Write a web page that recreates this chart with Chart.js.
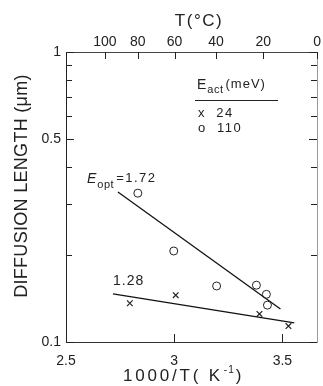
<!DOCTYPE html>
<html><head><meta charset="utf-8">
<script src="https://cdn.jsdelivr.net/npm/chart.js@4.4.1/dist/chart.umd.min.js"></script>
<style>html,body{margin:0;padding:0;background:#fff;overflow:hidden}canvas{display:block}</style>
</head><body>
<canvas id="c" width="323" height="386"></canvas>
<script>
// ---- data ----
const xTicks = [2.5, 3, 3.5];
const yTicks = [0.1, 0.2, 0.3, 0.4, 0.5, 0.6, 0.7, 0.8, 0.9, 1];
const yLabeled = [0.1, 0.5, 1];
const tempTicksC = [100, 80, 60, 40, 20, 0];
const crossX = [2.795, 3.007, 3.394, 3.528];
const crossY = [0.136, 0.145, 0.125, 0.1135];
const circleX = [2.832, 2.998, 3.196, 3.380, 3.426, 3.431];
const circleY = [0.326, 0.206, 0.156, 0.157, 0.146, 0.134];
const fitOptX = [2.740, 3.491];
const fitOptY = [0.329, 0.130];
const fitLowX = [2.717, 3.555];
const fitLowY = [0.1465, 0.1163];
const legendTitle = 'E', legendSub = 'act', legendUnit = '(meV)';
const legendRows = ['x  24', 'o  110'];

const F = "'Liberation Sans', Arial, sans-serif";
const INK = '#222';
const pts = (xs, ys) => xs.map((x, i) => ({x, y: ys[i]}));
const inv = t => 1000 / (t + 273.15);

const inwardTicks = {
  id: 'inwardTicks',
  afterDraw(chart) {
    const {ctx, chartArea: a, scales} = chart;
    ctx.save();
    ctx.strokeStyle = INK; ctx.lineWidth = 1;
    const ln = (x1, y1, x2, y2) => { ctx.beginPath(); ctx.moveTo(x1, y1); ctx.lineTo(x2, y2); ctx.stroke(); };
    xTicks.forEach(v => { const x = Math.round(scales.x.getPixelForValue(v)) + 0.5; ln(x, a.bottom, x, a.bottom - 8); });
    tempTicksC.forEach(t => { const x = Math.round(scales.x2.getPixelForValue(inv(t))) + 0.5; ln(x, a.top, x, a.top + 7); });
    yTicks.forEach(v => {
      const y = Math.round(scales.y.getPixelForValue(v)) + 0.5;
      const len = yLabeled.includes(v) ? 8 : 6;
      ln(a.left, y, a.left + len, y);
      ln(a.right, y, a.right - len, y);
    });
    ctx.restore();
  }
};

const texts = {
  id: 'texts',
  afterDraw(chart) {
    const {ctx} = chart;
    ctx.save();
    ctx.fillStyle = INK;
    ctx.textBaseline = 'alphabetic';
    const put = (s, x, y, size, sp, align, style) => {
      ctx.font = (style ? style + ' ' : '') + size + 'px ' + F;
      ctx.letterSpacing = (sp || 0) + 'px';
      ctx.textAlign = align || 'left';
      ctx.fillText(s, x, y);
      return ctx.measureText(s).width;
    };
    // y axis title
    ctx.save();
    ctx.translate(27, 186);
    ctx.rotate(-Math.PI / 2);
    put('DIFFUSION LENGTH (\u03bcm)', 0, 0, 18, 0.3, 'center');
    ctx.restore();
    // top title
    put('T(\u00b0C)', 199, 26, 17, 1.5, 'center');
    // bottom title
    let x = 123;
    x += put('1000/T( K', x, 381, 17, 2.8);
    x += put('-1', x + 1, 373, 10, 1);
    put(')', x + 2, 381, 17, 0);
    // E_opt annotation
    x = 87;
    x += put('E', x, 183, 14, 0, 'left', 'italic');
    x += put('opt', x + 1, 188, 11, 0.5);
    put('=1.72', x + 3, 182, 13, 1.5);
    put('1.28', 113, 285, 14, 1);
    // legend
    x = 197;
    x += put(legendTitle, x, 89, 14, 0);
    x += put(legendSub, x + 1, 93, 11, 0.5);
    put(legendUnit, x + 3, 88, 13, 1);
    ctx.strokeStyle = INK; ctx.lineWidth = 1;
    ctx.beginPath(); ctx.moveTo(195, 100.5); ctx.lineTo(278, 100.5); ctx.stroke();
    put(legendRows[0], 198, 117, 13, 1.5);
    put(legendRows[1], 198, 132, 13, 1.5);
    ctx.restore();
  }
};

const tickFont = {family: F, size: 14};
const noGrid = {display: false, drawTicks: false, tickLength: 0};
new Chart(document.getElementById('c'), {
  type: 'scatter',
  data: {
    datasets: [
      {data: pts(crossX, crossY), pointStyle: 'crossRot', pointRadius: 4, borderColor: INK, borderWidth: 1.2, xAxisID: 'x', yAxisID: 'y'},
      {data: pts(circleX, circleY), pointStyle: 'circle', pointRadius: 4, borderColor: INK, backgroundColor: 'rgba(255,255,255,0)', borderWidth: 1, xAxisID: 'x', yAxisID: 'y'},
      {data: pts(fitOptX, fitOptY), showLine: true, pointRadius: 0, borderColor: '#111', borderWidth: 1.3, xAxisID: 'x', yAxisID: 'y'},
      {data: pts(fitLowX, fitLowY), showLine: true, pointRadius: 0, borderColor: '#111', borderWidth: 1.3, xAxisID: 'x', yAxisID: 'y'}
    ]
  },
  options: {
    responsive: false, animation: false, devicePixelRatio: 1,
    layout: {padding: {left: 0, right: 6, top: 0, bottom: 0}},
    plugins: {legend: {display: false}, tooltip: {enabled: false}},
    scales: {
      x: {type: 'linear', position: 'bottom', min: 2.5, max: 3.66,
        afterBuildTicks: s => { s.ticks = xTicks.map(v => ({value: v})); },
        afterFit: s => { s.height = 44; },
        grid: noGrid,
        border: {display: true, color: '#333', width: 1, dash: [14, 4]},
        ticks: {color: INK, font: tickFont, padding: 11, autoSkip: false, maxRotation: 0, callback: v => String(v)}},
      x2: {type: 'linear', position: 'top', min: 2.5, max: 3.66,
        afterBuildTicks: s => { s.ticks = tempTicksC.map(t => ({value: inv(t)})); },
        afterFit: s => { s.height = 52; },
        grid: noGrid,
        border: {display: true, color: '#444', width: 1, dash: [12, 3, 2, 3]},
        ticks: {color: INK, font: tickFont, padding: 1, autoSkip: false, maxRotation: 0, callback: (v, i) => String(tempTicksC[i])}},
      y: {type: 'logarithmic', position: 'left', min: 0.1, max: 1,
        afterBuildTicks: s => { s.ticks = yTicks.map(v => ({value: v})); },
        afterFit: s => { s.width = 66; },
        grid: noGrid,
        border: {display: true, color: '#222', width: 1},
        ticks: {color: INK, font: tickFont, padding: 5, autoSkip: false, callback: v => (yLabeled.includes(v) ? String(v) : '')}},
      y2: {type: 'logarithmic', position: 'right', min: 0.1, max: 1,
        afterFit: s => { s.width = 0; },
        grid: noGrid,
        border: {display: true, color: '#999', width: 1, dash: [10, 6]},
        ticks: {display: false}}
    }
  },
  plugins: [inwardTicks, texts]
});
</script>
</body></html>
